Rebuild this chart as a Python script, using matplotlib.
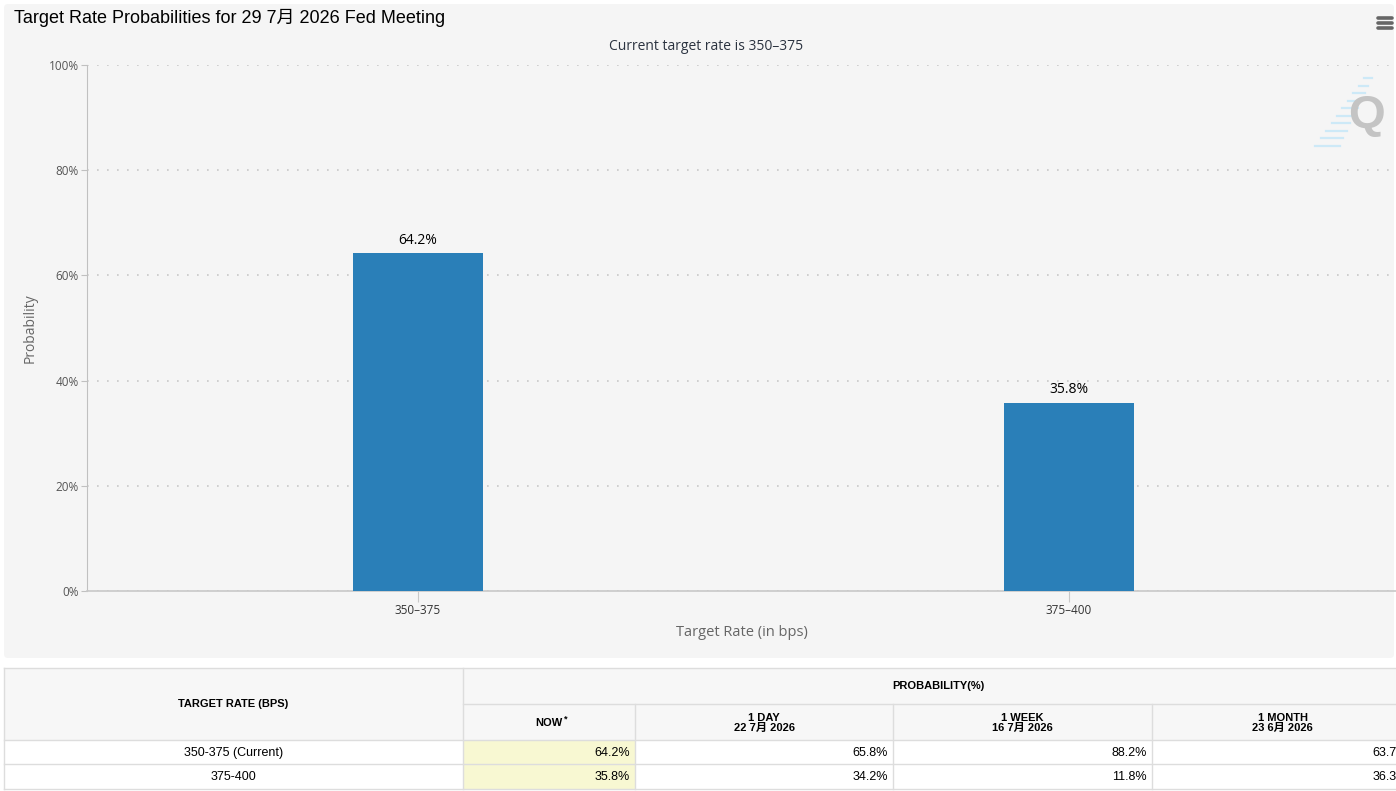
import matplotlib
matplotlib.use("Agg")
import matplotlib.pyplot as plt
from matplotlib.patches import Rectangle, FancyBboxPatch

plt.rcParams['font.family'] = ['Open Sans', 'Noto Sans CJK SC', 'DejaVu Sans']

# data
meeting = "29 7月 2026"
current_rate = "350–375"
rates = ["350–375", "375–400"]
probs_now = [64.2, 35.8]

table_rates = ["350-375 (Current)", "375-400"]
col_heads = ["NOW", "1 DAY\n22 7月 2026", "1 WEEK\n16 7月 2026", "1 MONTH\n23 6月 2026"]
prob_1day = [65.8, 34.2]
prob_1week = [88.2, 11.8]
prob_1month = [63.7, 36.3]

W, H = 1396, 791
fig = plt.figure(figsize=(W / 100, H / 100), dpi=100)
fig.patch.set_facecolor("white")

# background canvas in pixel coords
bg = fig.add_axes([0, 0, 1, 1])
bg.set_xlim(0, W)
bg.set_ylim(H, 0)
bg.axis("off")
bg.add_patch(FancyBboxPatch((4, 4), W - 6, 654, boxstyle="round,pad=0,rounding_size=4",
                            fc="#f5f5f5", ec="none"))

tfont = ['Liberation Sans', 'Noto Sans CJK SC', 'DejaVu Sans']
bg.text(14, 18, f"Target Rate Probabilities for {meeting} Fed Meeting", fontsize=13,
        family=tfont, va="center", ha="left", color="#000000")
bg.text(706, 46, f"Current target rate is {current_rate}", fontsize=10, ha="center",
        va="center", color="#2b3340")

# hamburger icon
for yy in (18, 23, 28):
    bg.plot([1378, 1392], [yy, yy], color="#666666", lw=2.6, solid_capstyle="round")

# watermark
for i in range(10):
    y0 = 78 + i * 7.5
    xr = 1372 - i * 3.6
    bg.plot([xr - 8 - i * 1.8, xr], [y0, y0], color="#cde9f7", lw=1.6)
bg.text(1367, 116, "Q", fontsize=34, fontweight="bold", color="#c4c4c4",
        ha="center", va="center", family=['Liberation Sans'])

# chart axes
ax = fig.add_axes([87 / W, 1 - 591 / H, (W - 87) / W, (591 - 65) / H])
ax.set_facecolor("none")
x = list(range(len(rates)))
bars = ax.bar(x, probs_now, width=0.2, color="#2a7fb8", zorder=3)
for b, p in zip(bars, probs_now):
    ax.text(b.get_x() + b.get_width() / 2, p + 1.0, f"{p:.1f}%", ha="center", va="bottom",
            fontsize=10, color="#000000")
ax.set_xlim(-0.508, 1.502)
ax.set_ylim(0, 100)
ax.set_yticks(range(0, 101, 20))
ax.set_yticklabels([f"{v}%" for v in range(0, 101, 20)])
ax.set_xticks(x)
ax.set_xticklabels(rates)
ax.grid(axis="y", linestyle=(0, (1, 5)), color="#c8c8c8", lw=1.2, zorder=0)
for s in ("top", "right"):
    ax.spines[s].set_visible(False)
ax.spines["left"].set_color("#c0c0c0")
ax.spines["bottom"].set_color("#c8c8c8")
ax.spines["bottom"].set_linewidth(1.2)
ax.tick_params(axis="y", length=4, color="#c0c0c0", labelsize=8.5, labelcolor="#555555", pad=2)
ax.tick_params(axis="x", length=8, color="#c8c8c8", labelsize=8.5, labelcolor="#333333", pad=1)
ax.set_ylabel("Probability", fontsize=10, color="#666666", labelpad=8)
ax.set_xlabel("Target Rate (in bps)", fontsize=10.5, color="#666666", labelpad=6)

# table
tf = ['Liberation Sans', 'Noto Sans CJK SC', 'DejaVu Sans']
cols = [4, 463, 635, 893, 1152, 1413]
y_top, y_h1, y_h2, y_r1, y_r2 = 668, 704, 740, 764, 789
line = "#dddddd"
bg.add_patch(Rectangle((4, y_top), W, y_h2 - y_top, fc="#f7f7f7", ec="none"))
bg.add_patch(Rectangle((cols[1], y_h2), cols[2] - cols[1], y_r2 - y_h2, fc="#f8f8d2", ec="none"))
for yy in (y_top, y_h2, y_r1, y_r2):
    bg.plot([4, W], [yy, yy], color=line, lw=1)
bg.plot([cols[1], W], [y_h1, y_h1], color=line, lw=1)
bg.plot([4, 4], [y_top, y_r2], color=line, lw=1)
bg.plot([cols[1], cols[1]], [y_top, y_r2], color=line, lw=1)
for c in cols[2:5]:
    bg.plot([c, c], [y_h1, y_r2], color=line, lw=1)

bg.text((cols[0] + cols[1]) / 2, (y_top + y_h2) / 2, "TARGET RATE (BPS)", fontsize=8,
        fontweight="bold", ha="center", va="center", family=tf)
bg.text((cols[1] + cols[5]) / 2, (y_top + y_h1) / 2, "PROBABILITY(%)", fontsize=8,
        fontweight="bold", ha="center", va="center", family=tf)
for i, head in enumerate(col_heads):
    cx = (cols[i + 1] + cols[i + 2]) / 2
    if i == 0:
        bg.text(cx, (y_h1 + y_h2) / 2 + 1, head, fontsize=8, fontweight="bold",
                ha="center", va="center", family=tf)
        bg.text(cx + 15, (y_h1 + y_h2) / 2 - 3, "*", fontsize=6.5, fontweight="bold",
                ha="left", va="center", family=tf)
    else:
        bg.text(cx, (y_h1 + y_h2) / 2 + 1, head, fontsize=8, fontweight="bold",
                ha="center", va="center", family=tf, linespacing=1.0)

series = [probs_now, prob_1day, prob_1week, prob_1month]
row_y = [(y_h2 + y_r1) / 2, (y_r1 + y_r2) / 2]
for r, name in enumerate(table_rates):
    bg.text((cols[0] + cols[1]) / 2, row_y[r] + 1, name, fontsize=9, ha="center",
            va="center", family=tf)
    for j, s in enumerate(series):
        bg.text(cols[j + 2] - 5, row_y[r] + 1, f"{s[r]:.1f}%", fontsize=9, ha="right",
                va="center", family=tf)

fig.savefig("out.png", dpi=100)
